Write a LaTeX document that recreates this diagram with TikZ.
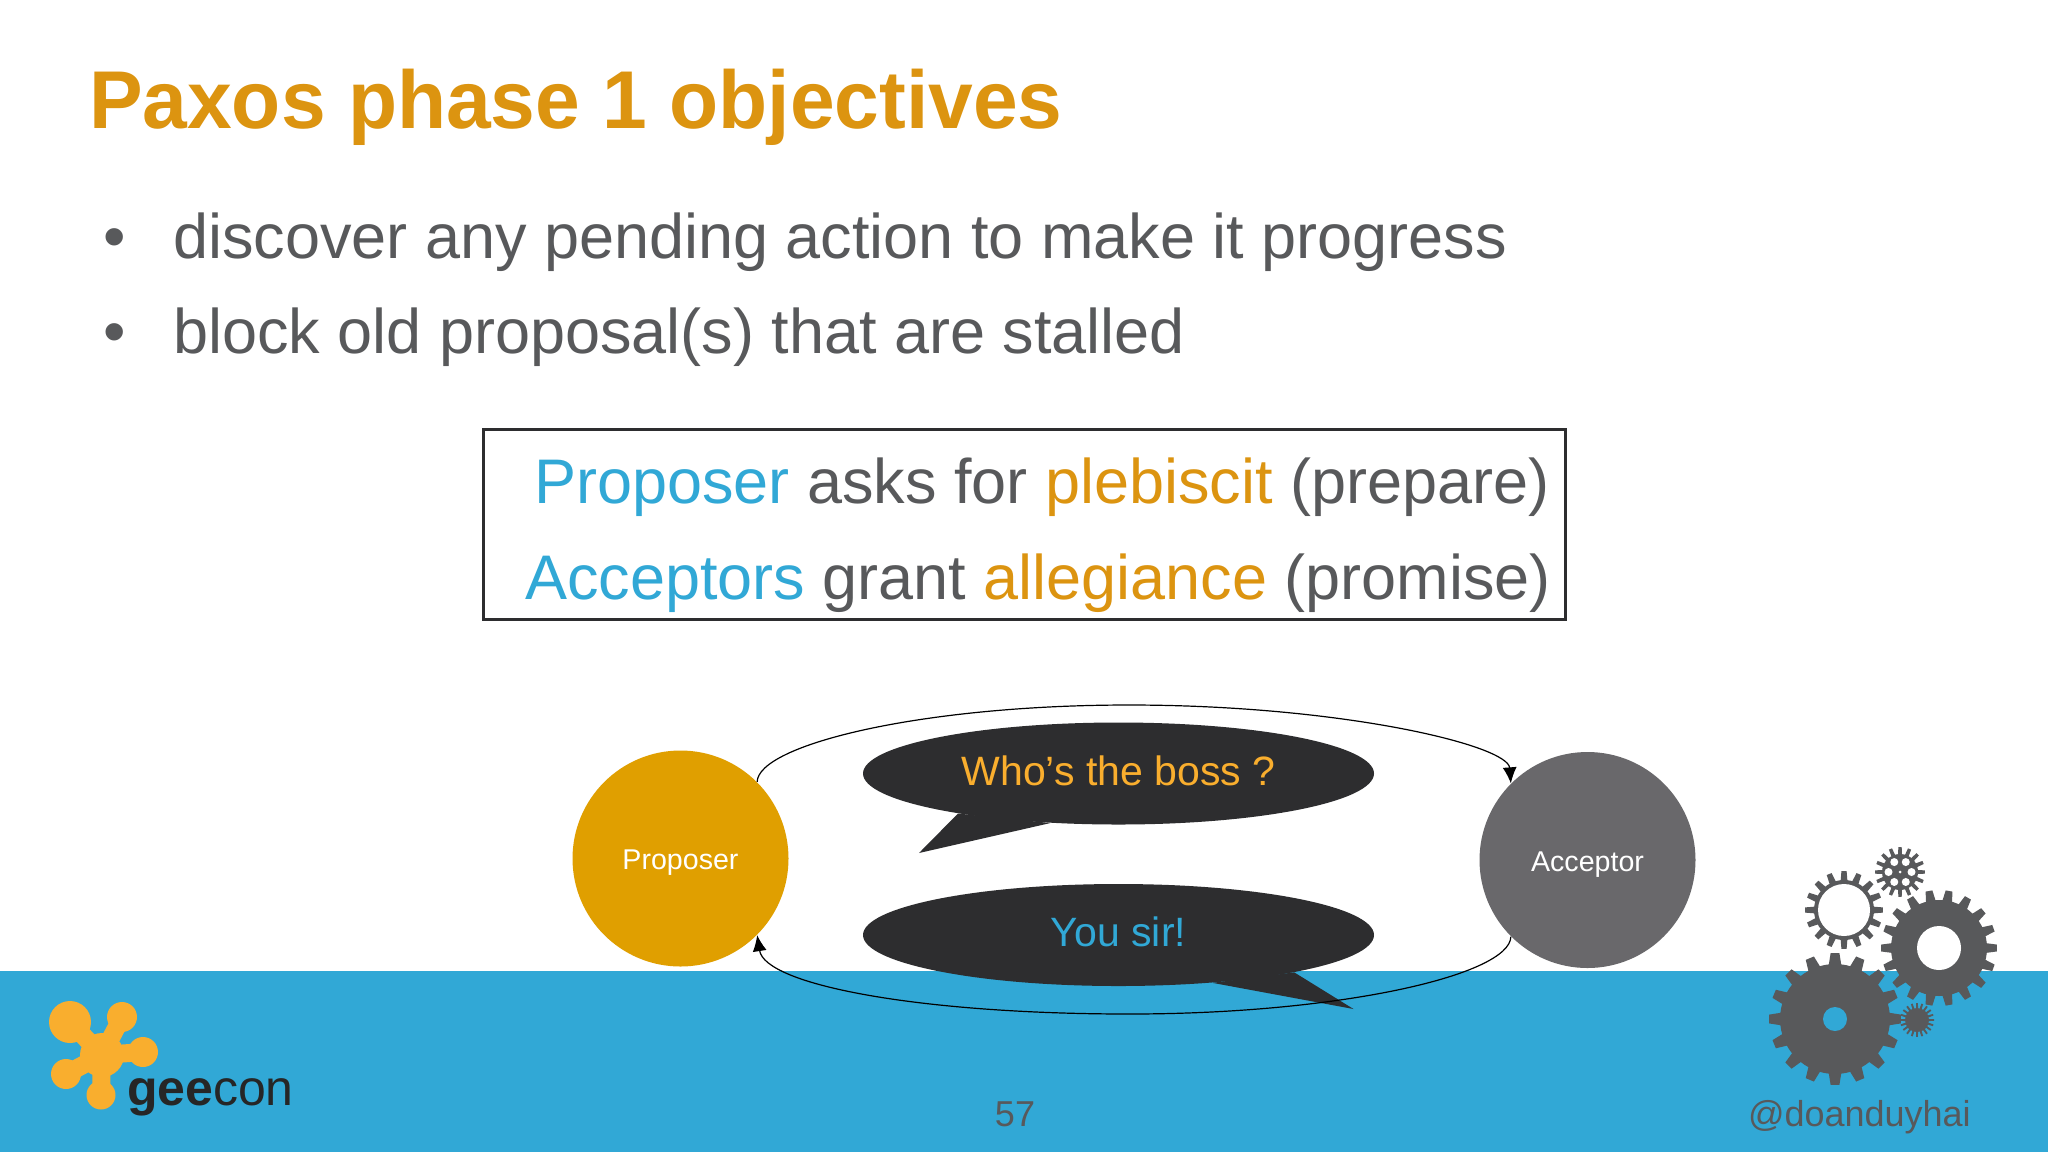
\documentclass[tikz,border=0pt]{standalone}
\usepackage{fontspec}
\setmainfont{Liberation Sans}
\newfontfamily\titlefont[FakeStretch=0.98]{Liberation Sans}
\usetikzlibrary{arrows.meta,shapes.geometric}
\definecolor{slidegray}{HTML}{58595B}
\definecolor{slideblue}{HTML}{31A8D6}
\definecolor{slideorange}{HTML}{DC9410}
\definecolor{proposerfill}{HTML}{E09F00}
\definecolor{acceptorfill}{HTML}{69686B}
\definecolor{logoorange}{HTML}{F9AE2E}
\definecolor{balloondark}{HTML}{2D2D2F}
\tikzset{
  txt/.style={anchor=base west, inner sep=0pt, outer sep=0pt, text=slidegray},
  actor/.style={circle, minimum size=108pt, inner sep=0pt, text=white, text height=14pt, text depth=3pt, font=\fontsize{14.3}{16}\selectfont},
  balloon/.style={ellipse, fill=balloondark, minimum width=255.5pt, minimum height=51pt, inner sep=0pt, text depth=3pt, font=\fontsize{20.5}{24}\selectfont},
  msg/.style={draw=black, line width=0.6pt, -{Latex[length=8pt,width=7pt]}},
  blob/.style={circle, fill=logoorange, inner sep=0pt},
  link/.style={draw=logoorange, line width=9pt}
}
\newcommand{\fs}[1]{\fontsize{#1}{#1}\selectfont}
% x, y, teeth, root radius, outer radius
\newcommand{\gearat}[5]{
  \pgfmathsetmacro{\gearpitch}{360/#3}
  \fill[slidegray] (#1,#2) circle (#4);
  \foreach \n in {1,...,#3}{
    \pgfmathsetmacro{\gearang}{\n*\gearpitch}
    \fill[slidegray, shift={(#1,#2)}] (\gearang-0.30*\gearpitch:#4-1) -- (\gearang-0.17*\gearpitch:#5)
      -- (\gearang+0.17*\gearpitch:#5) -- (\gearang+0.30*\gearpitch:#4-1) -- cycle;
  }
}
\begin{document}
\begin{tikzpicture}[x=0.5pt,y=-0.5pt]
\useasboundingbox (0,0) rectangle (2048,1152);
\fill[white] (0,0) rectangle (2048,1152);
\fill[slideblue] (0,971) rectangle (2048,1152);

\node[txt, text=slideorange, font=\fs{41}\titlefont\bfseries] (title) at (89,128) {Paxos phase 1 objectives};
\node[txt, font=\fs{32}] (dot1) at (103,258) {•};
\node[txt, font=\fs{32}] (dot2) at (103,353) {•};
\node[txt, font=\fs{31.5}] (line1) at (173,258) {discover any pending action to make it progress};
\node[txt, font=\fs{31.5}] (line2) at (173,353) {block old proposal(s) that are stalled};

\node[draw=balloondark, line width=1.5pt, minimum width=541pt, minimum height=95pt, inner sep=0pt] (frame) at (1024,524) {};
\node[txt, font=\fs{31.5}] (ask) at (534,503) {\textcolor{slideblue}{Proposer} asks for \textcolor{slideorange}{plebiscit} (prepare)};
\node[txt, font=\fs{31.5}] (grant) at (525,599) {\textcolor{slideblue}{Acceptors} grant \textcolor{slideorange}{allegiance} (promise)};

\node[actor, fill=proposerfill] (proposer) at (680.5,858.5) {Proposer};
\node[actor, fill=acceptorfill] (acceptor) at (1587.5,860) {Acceptor};

\node[balloon, text=logoorange] (boss) at (1118.5,773.5) {Who’s the boss ?};
\coordinate (bosstip) at (919,853);
\fill[balloondark] (boss.194) -- (bosstip) -- (boss.216) -- cycle;
\node[balloon, text=slideblue] (sir) at (1118.5,935) {You sir!};
\coordinate (sirtip) at (1353.5,1009);
\fill[balloondark] (sir.348) -- (sirtip) -- (sir.333) -- cycle;

\draw[msg] (proposer.45) .. controls (758,745) and (920,705) .. (1129,705) .. controls (1340,705) and (1508,745) .. (acceptor.135);
\draw[msg] (acceptor.-135) .. controls (1510,975) and (1340,1014) .. (1129,1014) .. controls (920,1014) and (765,985) .. (proposer.-45);

% logo
\node[blob, minimum size=22pt] (b0) at (102,1055) {};
\node[blob, minimum size=21pt] (b1) at (70,1022) {};
\node[blob, minimum size=15pt] (b2) at (122,1017) {};
\node[blob, minimum size=15pt] (b3) at (143,1052) {};
\node[blob, minimum size=15pt] (b4) at (66,1074) {};
\node[blob, minimum size=14.5pt] (b5) at (101,1095) {};
\foreach \b in {b1,b2,b3,b4,b5} \draw[link] (b0.center) -- (\b.center);
\node[txt, text=black!85, font=\fs{25}] (geecon) at (127,1105) {\textbf{gee}con};

\node[txt, anchor=base, font=\fs{18}] (page) at (1015,1126) {57};
\node[txt, font=\fs{18}] (handle) at (1748,1126) {@doanduyhai};

% gears
\gearat{1835}{1019}{16}{55}{66}
\fill[slideblue] (1835,1019) circle (12);
\gearat{1939}{948}{18}{48}{58}
\fill[white] (1939,948) circle (22);
\gearat{1844}{910}{16}{30}{39}
\fill[white] (1844,910) circle (26);
\gearat{1900}{872}{16}{18}{25}
\foreach \a in {0,60,...,300} \fill[white, shift={(1900,872)}] (\a:11.5) circle (4);
\fill[white] (1900,872) circle (1.5);
\gearat{1917}{1020}{20}{12}{17}
\end{tikzpicture}
\end{document}
